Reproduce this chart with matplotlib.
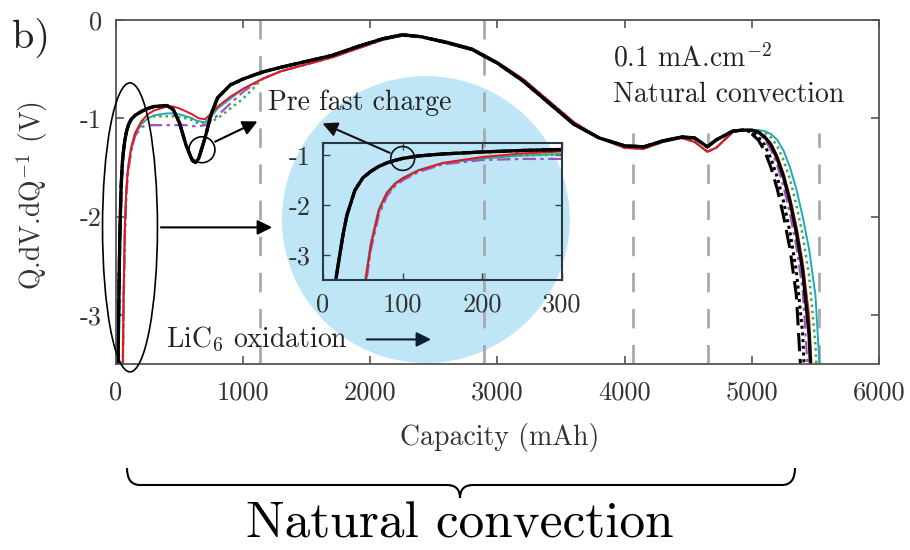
import numpy as np
import matplotlib
matplotlib.use("Agg")
import matplotlib.pyplot as plt
from matplotlib.patches import Ellipse, PathPatch
from matplotlib.path import Path

plt.rcParams.update({
    "font.family": ["cmr10", "DejaVu Serif"],
    "mathtext.fontset": "cm",
    "axes.unicode_minus": False,
})

# ---------------------------------------------------------------------------
# Data (capacity in mAh, Q.dV/dQ in V)
# ---------------------------------------------------------------------------
Q_HEAD = [0, 15, 20, 25, 30, 40, 50, 60, 70, 80, 90, 100, 120, 150, 200, 250,
          300, 400, 450, 500, 550, 600, 625, 650, 700, 750, 800, 900, 1000]
Q_MID = [1150, 1300, 1500, 1700, 1900, 2100, 2250, 2400, 2600, 2800, 3000,
         3200, 3400, 3600, 3800, 4000, 4150, 4300, 4450, 4550, 4650, 4720,
         4850, 4930]
Q_TAIL = [5000, 5050, 5100, 5150, 5200, 5250, 5300, 5350, 5400, 5450, 5500,
          5550, 5600]

BLACK_HEAD = [-6.0, -3.6, -3.1, -2.6, -2.2, -1.7, -1.45, -1.32, -1.22, -1.15,
              -1.1, -1.06, -1.01, -0.97, -0.93, -0.9, -0.88, -0.87, -0.91,
              -1.05, -1.27, -1.43, -1.45, -1.41, -1.2, -0.95, -0.79, -0.66, -0.6]
RED_HEAD = [-6, -6, -6, -6, -6, -5.5, -3.9, -2.8, -2.1, -1.76, -1.58, -1.46,
            -1.3, -1.15, -1.03, -0.96, -0.92, -0.88, -0.88, -0.9, -0.93, -0.96,
            -0.98, -1.0, -1.01, -0.95, -0.88, -0.78, -0.7]
GREEN_HEAD = [-6, -6, -6, -6, -6, -5.5, -3.9, -2.85, -2.15, -1.8, -1.6, -1.48,
              -1.32, -1.17, -1.05, -1.0, -0.98, -0.98, -0.98, -0.99, -1.0,
              -1.02, -1.04, -1.05, -1.05, -1.03, -1.0, -0.9, -0.8]
PURPLE_HEAD = [-6, -6, -6, -6, -6, -5.6, -4.0, -2.9, -2.2, -1.82, -1.62, -1.5,
               -1.33, -1.18, -1.09, -1.07, -1.07, -1.07, -1.07, -1.07, -1.07,
               -1.08, -1.08, -1.08, -1.07, -1.02, -0.97, -0.85, -0.73]
CYAN_HEAD = [-6, -6, -6, -6, -6, -5.5, -3.8, -2.75, -2.08, -1.74, -1.56, -1.45,
             -1.29, -1.16, -1.06, -1.0, -0.97, -0.95, -0.95, -0.96, -0.98,
             -1.0, -1.02, -1.03, -1.04, -0.98, -0.9, -0.8, -0.7]

BLACK_MID = [-0.53, -0.48, -0.42, -0.36, -0.27, -0.19, -0.15, -0.17, -0.23,
             -0.3, -0.44, -0.62, -0.84, -1.06, -1.2, -1.28, -1.29, -1.23,
             -1.19, -1.2, -1.29, -1.22, -1.13, -1.12]
COLOR_MID = [-0.6, -0.52, -0.45, -0.38, -0.29, -0.2, -0.16, -0.17, -0.22,
             -0.29, -0.43, -0.6, -0.82, -1.04, -1.2, -1.3, -1.31, -1.24,
             -1.2, -1.24, -1.34, -1.3, -1.14, -1.12]

DASHED_TAIL = [-1.16, -1.22, -1.33, -1.5, -1.72, -2.0, -2.33, -2.8, -3.9, -5, -6, -6, -6]
DOTTED_TAIL = [-1.14, -1.19, -1.27, -1.41, -1.6, -1.85, -2.16, -2.55, -3.2, -4.6, -6, -6, -6]
SOLID_TAIL = [-1.12, -1.14, -1.19, -1.27, -1.41, -1.6, -1.85, -2.16, -2.55, -3.2, -4.6, -6, -6]
PURPLE_TAIL = [-1.13, -1.155, -1.21, -1.32, -1.48, -1.7, -1.97, -2.3, -2.75, -3.75, -5, -6, -6]
RED_TAIL = [-1.12, -1.135, -1.18, -1.25, -1.38, -1.56, -1.8, -2.09, -2.46, -3.0, -4.3, -5.5, -6]
GREEN_TAIL = [-1.12, -1.125, -1.145, -1.195, -1.28, -1.43, -1.62, -1.88, -2.19, -2.6, -3.3, -4.8, -6]
CYAN_TAIL = [-1.12, -1.12, -1.13, -1.16, -1.22, -1.33, -1.5, -1.72, -2.0, -2.33, -2.8, -3.9, -5.5]

# vertical dashed guide lines (mAh)
VLINES_FULL = [1132, 2893]
VLINES_PART = [4065, 4654, 5527]

X_TICKS = [0, 1000, 2000, 3000, 4000, 5000, 6000]
Y_TICKS = [0, -1, -2, -3]
INSET_X_TICKS = [0, 100, 200, 300]
INSET_Y_TICKS = [-1, -2, -3]

# (head, mid, tail, color, linestyle, linewidth)
SERIES = [
    (CYAN_HEAD, COLOR_MID, CYAN_TAIL, "#1fa8c0", "-", 1.4),
    (GREEN_HEAD, COLOR_MID, GREEN_TAIL, "#3cb043", (0, (1, 1.5)), 1.8),
    (PURPLE_HEAD, COLOR_MID, PURPLE_TAIL, "#9a55c0", (0, (6, 2, 1.5, 2)), 1.6),
    (RED_HEAD, COLOR_MID, RED_TAIL, "#e8161b", "-", 1.4),
    (BLACK_HEAD, BLACK_MID, DOTTED_TAIL, "black", (0, (1, 1.2)), 2.2),
    (BLACK_HEAD, BLACK_MID, DASHED_TAIL, "black", (0, (6, 2.5)), 2.2),
    (BLACK_HEAD, BLACK_MID, SOLID_TAIL, "black", "-", 2.4),
]

W, H = 910, 550
fig = plt.figure(figsize=(W / 100, H / 100), dpi=100)
fig.patch.set_facecolor("white")


def fx(px):
    return px / W


def fy(py):
    return 1 - py / H


ax = fig.add_axes([fx(116), fy(364), fx(879) - fx(116), fy(20) - fy(364)])
ax.set_xlim(0, 6000)
ax.set_ylim(-3.5, 0)

# light blue magnifier disc
ax.add_patch(Ellipse((2437, -2.03), 2264, 2.92, facecolor="#bfe6f6",
                     edgecolor="none", zorder=0.5, clip_on=False))

for v in VLINES_FULL:
    ax.plot([v, v], [-3.5, 0], color="#a9a9a9", lw=2, dashes=(7, 6), zorder=1)
for v in VLINES_PART:
    ax.plot([v, v], [-3.5, -1.15], color="#a9a9a9", lw=2, dashes=(7, 6), zorder=1)

for head, mid, tail, color, ls, lw in SERIES:
    q = Q_HEAD + Q_MID + Q_TAIL
    v = head + mid + tail
    ax.plot(q, v, color=color, ls=ls, lw=lw, zorder=2)

ax.set_xticks(X_TICKS)
ax.set_xticklabels([str(t) for t in X_TICKS])
ax.set_yticks(Y_TICKS)
ax.set_yticklabels([str(t) for t in Y_TICKS])
ax.tick_params(direction="in", top=True, right=True, length=6, width=1.2,
               colors="#555555", labelcolor="#333333", labelsize=19)
ax.tick_params(axis="x", pad=12)
ax.tick_params(axis="y", pad=10)
for s in ax.spines.values():
    s.set_color("#555555")
    s.set_linewidth(1.3)

# ellipse around the LiC6 region + arrow to the inset
ax.add_patch(Ellipse((110, -2.11), 432, 2.94, fill=False, edgecolor="black",
                     lw=1.2, clip_on=False, zorder=3))
ax.annotate("", xy=(1250, -2.11), xytext=(331, -2.11),
            arrowprops=dict(arrowstyle="-|>", color="black", lw=1.5,
                            mutation_scale=22), annotation_clip=False)

# circle on the dip + arrow
ax.add_patch(Ellipse((676, -1.32), 204, 0.264, fill=False, edgecolor="black",
                     lw=1.2, zorder=3))
ax.annotate("", xy=(1132, -1.02), xytext=(760, -1.25),
            arrowprops=dict(arrowstyle="-|>", color="black", lw=1.5,
                            mutation_scale=22))

ax.text(1195, -0.914, "Pre fast charge", fontsize=20, color="#222222", zorder=4)
ax.text(3907, -0.477, r"0.1 mA.cm$^{-2}$", fontsize=20, color="#222222")
ax.text(3907, -0.832, "Natural convection", fontsize=20, color="#222222")
ax.text(393, -3.33, r"LiC$_6$ oxidation", fontsize=20, color="#222222")
ax.annotate("", xy=(2500, -3.25), xytext=(1950, -3.25),
            arrowprops=dict(arrowstyle="-|>", color="#102030", lw=1.5,
                            mutation_scale=22))

# inset
ins = fig.add_axes([fx(323), fy(280), fx(562) - fx(323), fy(143) - fy(280)])
ins.patch.set_alpha(0)
for head, mid, tail, color, ls, lw in SERIES:
    q = Q_HEAD + Q_MID + Q_TAIL
    v = head + mid + tail
    ins.plot(q, v, color=color, ls=ls, lw=lw)
ins.set_xlim(0, 300)
ins.set_ylim(-3.5, -0.75)
ins.set_xticks(INSET_X_TICKS)
ins.set_xticklabels([str(t) for t in INSET_X_TICKS])
ins.set_yticks(INSET_Y_TICKS)
ins.set_yticklabels([str(t) for t in INSET_Y_TICKS])
ins.tick_params(direction="in", top=True, right=True, length=5, width=1.0,
                colors="#334455", labelcolor="#333333", labelsize=19)
ins.tick_params(axis="x", pad=9)
ins.tick_params(axis="y", pad=9)
for s in ins.spines.values():
    s.set_color("#2a3a44")
    s.set_linewidth(1.5)

ins.add_patch(Ellipse((100, -1.06), 30, 0.48, fill=False, edgecolor="#111111",
                      lw=1.2, clip_on=False, zorder=5))
ins.annotate("", xy=(1604, -1.04), xycoords=ax.transData,
             xytext=(87, -0.97), textcoords=ins.transData,
             arrowprops=dict(arrowstyle="-|>", color="#111111", lw=1.5,
                             mutation_scale=22), annotation_clip=False)

# figure-level labels
fig.text(fx(12), fy(48), "b)", fontsize=29, color="#222222")
fig.text(fx(32), fy(195), r"Q.dV.dQ$^{-1}$ (V)", fontsize=20, rotation=90,
         ha="center", va="center", color="#333333")
fig.text(fx(500), fy(437), "Capacity (mAh)", fontsize=20, ha="center",
         va="center", color="#333333")

# curly brace
verts = [(127, 468), (127, 485), (140, 485), (447, 485), (460, 485),
         (460, 498), (460, 485), (473, 485), (782, 485), (795, 485), (795, 468)]
codes = [Path.MOVETO, Path.CURVE3, Path.CURVE3, Path.LINETO, Path.CURVE3,
         Path.CURVE3, Path.CURVE3, Path.CURVE3, Path.LINETO, Path.CURVE3,
         Path.CURVE3]
brace = Path([(fx(x), fy(y)) for x, y in verts], codes)
fig.add_artist(PathPatch(brace, fill=False, lw=1.5, edgecolor="black",
                         transform=fig.transFigure))

fig.text(fx(460), fy(538), "Natural convection", fontsize=37, ha="center",
         va="baseline", color="black")

fig.savefig("out.png", dpi=100)
